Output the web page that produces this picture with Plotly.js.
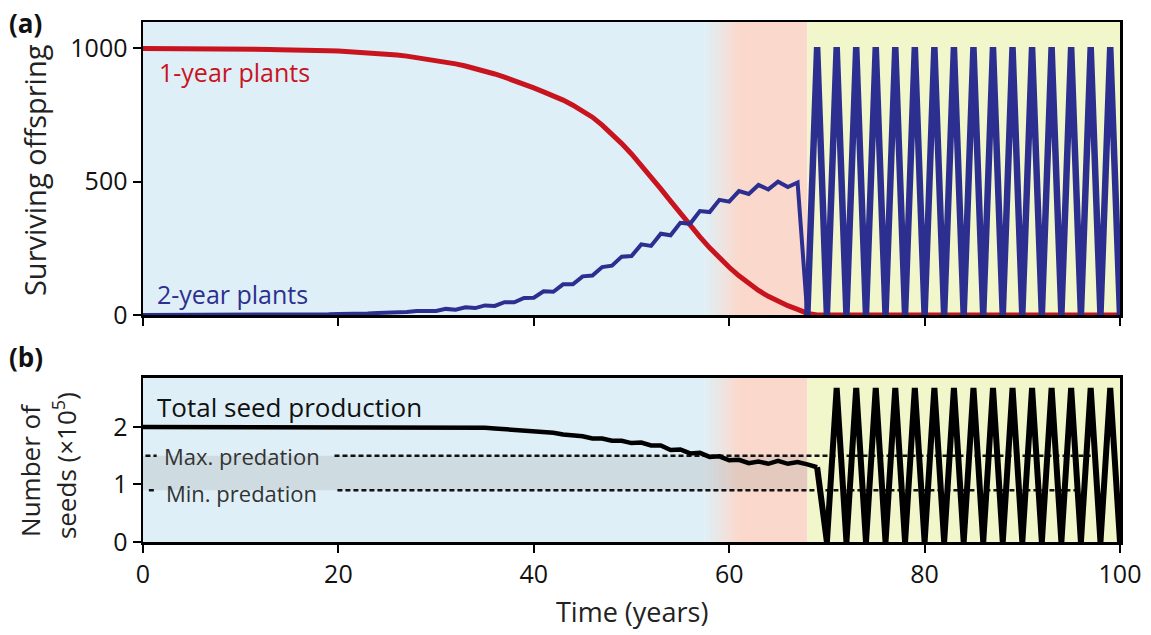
<!DOCTYPE html>
<html>
<head>
<meta charset="utf-8">
<script src="https://cdn.plot.ly/plotly-3.0.1.min.js"></script>
<style>
html,body{margin:0;padding:0;background:#fff;}
#chart{width:1151px;height:635px;}
</style>
</head>
<body>
<div id="chart"></div>
<script>
// ---------- data ----------
var years = [];
for (var i = 0; i <= 100; i++) years.push(i);

var oneYearPlants = [
 1000,1000,1000,999,999,999,999,998,998,998,
 997,997,996,996,995,995,994,993,992,991,
 990,988,986,984,981,978,975,971,966,961,
 955,949,942,934,925,915,904,892,880,866,
 852,837,822,806,787,766,742,712,679,643,
 604,562,518,473,427,381,336,293,252,214,
 179,147,118,92,70,51,35,21,6,0,
 0,0,0,0,0,0,0,0,0,0,
 0,0,0,0,0,0,0,0,0,0,
 0,0,0,0,0,0,0,0,0,0,
 0
];

var twoYearPlants = [
 0,0,0,0,0,0,0,0,0,0,
 0,0,1,1,1,1,2,2,3,3,
 4,4,6,6,8,8,11,11,15,14,
 15,23,20,29,26,36,34,48,48,64,
 65,89,87,115,115,145,148,180,185,219,
 221,265,259,305,299,346,342,390,386,432,
 425,465,454,488,471,500,480,497,0,1005,
 0,1005,0,1005,0,1005,0,1005,0,1005,
 0,1005,0,1005,0,1005,0,1005,0,1005,
 0,1005,0,1005,0,1005,0,1005,0,1005,
 0
];

var seedProduction = [
 2.00,2.00,2.00,2.00,2.00,2.00,2.00,2.00,2.00,2.00,
 2.00,2.00,2.00,2.00,2.00,2.00,2.00,2.00,2.00,2.00,
 2.00,2.00,2.00,2.00,2.00,2.00,2.00,2.00,2.00,2.00,
 2.00,2.00,2.00,1.995,1.99,1.985,1.975,1.965,1.955,1.94,
 1.93,1.92,1.90,1.87,1.85,1.84,1.80,1.80,1.76,1.76,
 1.72,1.73,1.68,1.68,1.60,1.61,1.54,1.55,1.48,1.49,
 1.42,1.43,1.37,1.40,1.36,1.41,1.36,1.39,1.35,1.30,
 0,2.68,0,2.68,0,2.68,0,2.68,0,2.68,
 0,2.68,0,2.68,0,2.68,0,2.68,0,2.68,
 0,2.68,0,2.68,0,2.68,0,2.68,0,2.68,
 0
];

var maxPredX = [0.25, 1.4, null, 19.6, 97];
var maxPredY = [1.5, 1.5, null, 1.5, 1.5];
var minPredX = [0.6, 1.4, null, 19.9, 96];
var minPredY = [0.9, 0.9, null, 0.9, 0.9];

var topTicks = [0, 500, 1000];
var bottomTicks = [0, 1, 2];
var xTicks = [0, 20, 40, 60, 80, 100];
var switchYear = 68;   // start of the oscillating phase

// ---------- styling ----------
var FONT = "Open Sans, Noto Sans, sans-serif";
var RED = "#c8141e";
var BLUE = "#2c2f90";
var BLUEBG = "rgb(223,239,247)";
var SALMON = "rgb(250,217,204)";
var YELLOW = "rgb(241,246,203)";

var cut = years.indexOf(switchYear);

var traces = [
  {x: years, y: oneYearPlants, xaxis: "x2", yaxis: "y2", mode: "lines",
   line: {color: RED, width: 5}, hoverinfo: "skip"},
  {x: years.slice(0, cut + 1), y: twoYearPlants.slice(0, cut + 1), xaxis: "x2", yaxis: "y2", mode: "lines",
   line: {color: BLUE, width: 4}, hoverinfo: "skip"},
  {x: years.slice(cut), y: twoYearPlants.slice(cut), xaxis: "x2", yaxis: "y2", mode: "lines",
   line: {color: BLUE, width: 6.5}, hoverinfo: "skip"},
  {x: maxPredX, y: maxPredY, xaxis: "x", yaxis: "y", mode: "lines",
   line: {color: "#111", width: 2.5, dash: "5px,3px"}, hoverinfo: "skip"},
  {x: minPredX, y: minPredY, xaxis: "x", yaxis: "y", mode: "lines",
   line: {color: "#111", width: 2.5, dash: "5px,3px"}, hoverinfo: "skip"},
  {x: years.slice(0, cut + 2), y: seedProduction.slice(0, cut + 2), xaxis: "x", yaxis: "y", mode: "lines",
   line: {color: "#000", width: 4.5}, hoverinfo: "skip"},
  {x: years.slice(cut + 1), y: seedProduction.slice(cut + 1), xaxis: "x", yaxis: "y", mode: "lines",
   line: {color: "#000", width: 6}, hoverinfo: "skip"}
];

function lerpColor(a, b, t) {
  return "rgb(" + [0,1,2].map(function(k){return Math.round(a[k] + (b[k]-a[k])*t);}).join(",") + ")";
}
var cBlue = [223,239,247], cSal = [250,217,204];

function bgShapes(xr, yr) {
  var s = [];
  s.push({type:"rect", xref:xr, yref:yr + " domain", x0:0, x1:57.5, y0:0, y1:1, fillcolor:BLUEBG, line:{width:0}, layer:"below"});
  var n = 8, start = 57.5, end = 61;
  for (var k = 0; k < n; k++) {
    var a = start + (end-start)*k/n, b = start + (end-start)*(k+1)/n;
    s.push({type:"rect", xref:xr, yref:yr + " domain", x0:a, x1:b+0.05, y0:0, y1:1,
            fillcolor:lerpColor(cBlue, cSal, (k+0.5)/n), line:{width:0}, layer:"below"});
  }
  s.push({type:"rect", xref:xr, yref:yr + " domain", x0:61, x1:68, y0:0, y1:1, fillcolor:SALMON, line:{width:0}, layer:"below"});
  s.push({type:"rect", xref:xr, yref:yr + " domain", x0:68, x1:100, y0:0, y1:1, fillcolor:YELLOW, line:{width:0}, layer:"below"});
  return s;
}
var shapes = bgShapes("x2", "y2").concat(bgShapes("x", "y"));
shapes.push({type:"rect", xref:"x", yref:"y", x0:0, x1:68, y0:0.9, y1:1.5,
             fillcolor:"rgba(140,140,140,0.2)", line:{width:0}, layer:"below"});

var axisCommon = {
  showline: true, mirror: true, linecolor: "#000", linewidth: 2.5,
  ticks: "outside", ticklen: 8, tickwidth: 2, tickcolor: "#000",
  showgrid: false, zeroline: false, fixedrange: true,
  tickfont: {family: FONT, size: 25, color: "#111"}
};

var layout = {
  width: 1151, height: 635,
  margin: {l: 143, r: 31, t: 22, b: 93},
  paper_bgcolor: "#fff", plot_bgcolor: "#fff",
  showlegend: false,
  xaxis: Object.assign({}, axisCommon, {domain:[0,1], anchor:"y", range:[0,100], tickvals:xTicks, ticktext:xTicks.map(String)}),
  yaxis: Object.assign({}, axisCommon, {domain:[0,0.3154], anchor:"x", range:[0,2.852], tickvals:bottomTicks, ticktext:bottomTicks.map(String)}),
  xaxis2: Object.assign({}, axisCommon, {domain:[0,1], anchor:"y2", range:[0,100], tickvals:xTicks, showticklabels:false}),
  yaxis2: Object.assign({}, axisCommon, {domain:[0.4365,1], anchor:"x2", range:[0,1099], tickvals:topTicks, ticktext:topTicks.map(String)}),
  shapes: shapes,
  annotations: [
    {text:"<b>(a)</b>", xref:"paper", yref:"paper", x:-0.139, y:0.998, xanchor:"left", yanchor:"middle", showarrow:false, font:{family:FONT, size:26, color:"#111"}},
    {text:"<b>(b)</b>", xref:"paper", yref:"paper", x:-0.139, y:0.356, xanchor:"left", yanchor:"middle", showarrow:false, font:{family:FONT, size:26, color:"#111"}},
    {text:"Surviving offspring", xref:"paper", yref:"paper", x:-0.1105, y:0.7154, xanchor:"center", yanchor:"middle", textangle:-90, showarrow:false, font:{family:FONT, size:29, color:"#222"}},
    {text:"Number of", xref:"paper", yref:"paper", x:-0.1157, y:0.1385, xanchor:"center", yanchor:"middle", textangle:-90, showarrow:false, font:{family:FONT, size:26, color:"#222"}},
    {text:"seeds (×10<sup>5</sup>)", xref:"paper", yref:"paper", x:-0.0798, y:0.146, xanchor:"center", yanchor:"middle", textangle:-90, showarrow:false, font:{family:FONT, size:26, color:"#222"}},
    {text:"Time (years)", xref:"paper", yref:"paper", x:0.5005, y:-0.1346, xanchor:"center", yanchor:"middle", showarrow:false, font:{family:FONT, size:27, color:"#222"}},
    {text:"1-year plants", xref:"x2", yref:"y2", x:1.4, y:911, xanchor:"left", yanchor:"middle", showarrow:false, font:{family:FONT, size:25, color:RED}},
    {text:"2-year plants", xref:"x2", yref:"y2", x:1.2, y:80, xanchor:"left", yanchor:"middle", showarrow:false, font:{family:FONT, size:25, color:BLUE}},
    {text:"Total seed production", xref:"x", yref:"y", x:1.2, y:2.35, xanchor:"left", yanchor:"middle", showarrow:false, font:{family:FONT, size:26, color:"#111"}},
    {text:"Max. predation", xref:"x", yref:"y", x:1.9, y:1.49, xanchor:"left", yanchor:"middle", showarrow:false, font:{family:FONT, size:22, color:"#333"}},
    {text:"Min. predation", xref:"x", yref:"y", x:2.2, y:0.86, xanchor:"left", yanchor:"middle", showarrow:false, font:{family:FONT, size:22, color:"#333"}}
  ]
};

Plotly.newPlot("chart", traces, layout, {displayModeBar:false, staticPlot:true});
</script>
</body>
</html>
